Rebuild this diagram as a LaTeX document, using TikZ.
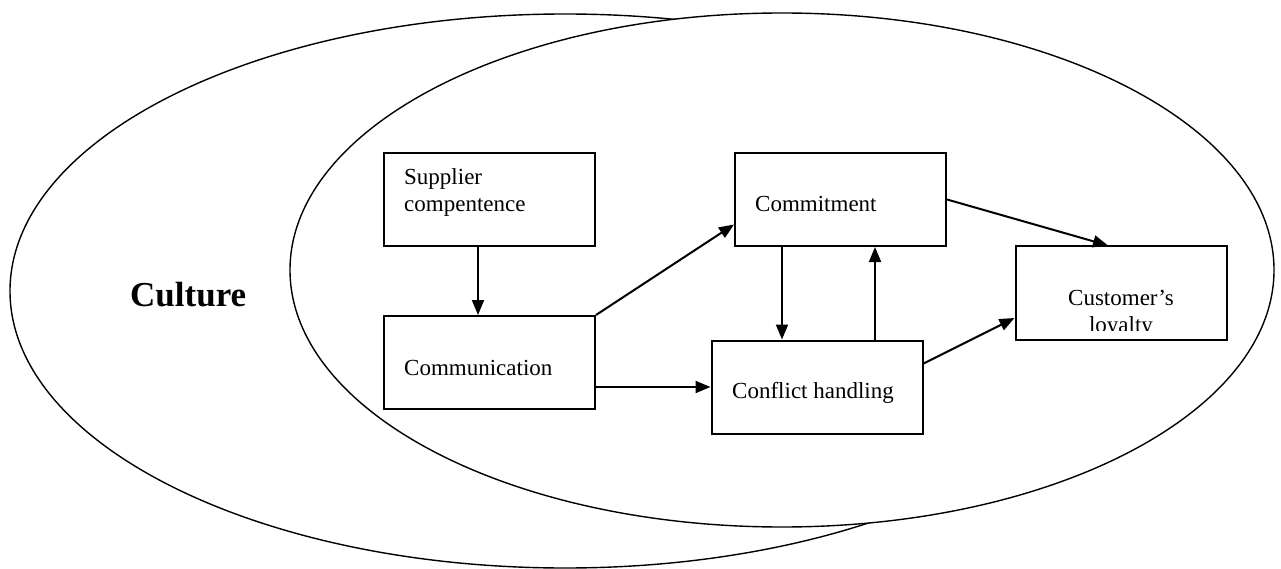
\documentclass[tikz,border=0pt]{standalone}
\usepackage{fontspec}
\setmainfont{Liberation Serif}
\usetikzlibrary{arrows.meta,calc}
\begin{document}
\begin{tikzpicture}[x=1pt,y=-1pt,
  box/.style={draw,line width=2pt,minimum width=211pt,minimum height=93pt,inner sep=0pt},
  lbl/.style={inner sep=0pt,font=\fontsize{23}{27}\selectfont},
  arr/.style={line width=2pt,-{Triangle[length=15pt,width=12pt]}},
  oval/.style={line width=1.4pt}]
\useasboundingbox (0,0) rectangle (1281,569);
\draw[oval] (565,291) ellipse [x radius=555pt, y radius=277pt];
\draw[oval,fill=white] (782,270) ellipse [x radius=492pt, y radius=257pt];
\node[inner sep=0pt,anchor=base west,font=\fontsize{35}{40}\selectfont\bfseries] (cult) at (130,306) {Culture};
\node[box] (sup) at (489,199.5) {};
\node[box] (comm) at (489.5,362.5) {};
\node[box] (conf) at (817,387) {};
\node[box] (commit) at (840.5,199.5) {};
\node[box] (cust) at (1121,293) {};
\node[lbl,anchor=base west] (t1) at (404,185) {Supplier};
\node[lbl,anchor=base west] (t2) at (404,212) {compentence};
\node[lbl,anchor=base west] (t3) at (404,375) {Communication};
\node[lbl,anchor=base west] (t4) at (755,212) {Commitment};
\node[lbl,anchor=base west] (t5) at (732,398) {Conflict handling};
\node[lbl,anchor=base] (t6) at (1121,305) {Customer’s};
\begin{scope}
\clip (1015,247) rectangle (1227,330);
\node[lbl,anchor=base] (t7) at (1121,332) {loyalty};
\end{scope}
\draw[arr] ($(sup.south)+(-11,0)$) -- ($(comm.north)+(-11.5,0)$);
\draw[arr] (comm.north east) -- ($(commit.west)+(0,25)$);
\draw[arr] (comm.east |- conf.west) -- (conf.west);
\draw[arr] ($(commit.south)+(-58.5,0)$) coordinate (a1) -- (a1 |- conf.north);
\draw[arr] ($(conf.north)+(58,0)$) coordinate (a2) -- (a2 |- commit.south);
\draw[arr] (commit.east) -- ($(cust.north)+(-13,0)$);
\draw[arr] ($(conf.east)+(0,-23.5)$) -- ($(cust.west)+(0,25)$);
\end{tikzpicture}
\end{document}
